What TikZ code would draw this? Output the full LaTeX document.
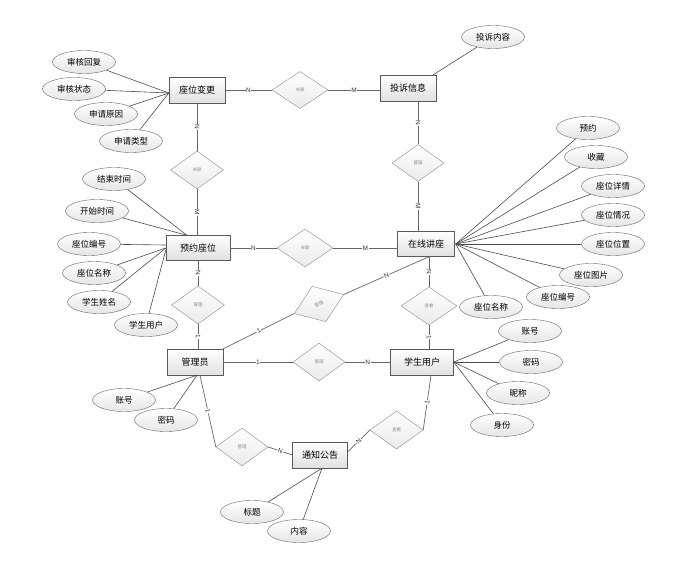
\documentclass[tikz,border=0pt]{standalone}
\usepackage{fontspec}
\newfontfamily\cjk{Noto Sans CJK SC}
\newfontfamily\lat{Liberation Sans}
\usetikzlibrary{shapes.geometric,shadows}
\begin{document}
\begin{tikzpicture}[x=1pt,y=-1pt,
  ent/.style={draw=black!65, top color=white, bottom color=black!12, minimum width=56pt, minimum height=26pt, inner sep=1pt, font=\cjk\fontsize{9}{10}\selectfont, drop shadow={shadow xshift=0.8pt, shadow yshift=-0.8pt, opacity=0.35}},
  attr/.style={ellipse, draw=black!60, top color=white, bottom color=black!10, minimum width=63pt, minimum height=23pt, inner sep=0pt, font=\cjk\fontsize{8.5}{10}\selectfont},
  rel/.style={diamond, draw=black!45, top color=white, bottom color=black!8, minimum width=53pt, minimum height=38pt, inner sep=0pt, font=\cjk\fontsize{4.5}{5}\selectfont, text=black!45},
  ln/.style={draw=black!60, line width=0.7pt},
  al/.style={draw=black!70, line width=0.6pt},
  card/.style={font=\lat\fontsize{6.5}{7}\selectfont, fill=white, inner sep=0.6pt, sloped, text=black!80}]
\fill[white] (0,0) rectangle (698,569);
\useasboundingbox (0,0) rectangle (698,569);

% entities
\node[ent] (zwbg) at (197,90) {座位变更};
\node[ent] (tsxx) at (408,88) {投诉信息};
\node[ent, minimum width=64pt, minimum height=25pt] (yyzw) at (198,248) {预约座位};
\node[ent, minimum width=57pt, minimum height=25pt] (zxjz) at (426,244) {在线讲座};
\node[ent] (gly) at (195,362) {管理员};
\node[ent, minimum width=63pt] (xsyh) at (422,362) {学生用户};
\node[ent, minimum width=55pt] (tzgg) at (320,455) {通知公告};

% relations
\node[rel, minimum width=56pt, minimum height=37pt] (r1) at (300,90) {关联};
\node[rel] (r2) at (197,170) {关联};
\node[rel, minimum width=52pt, minimum height=37pt] (r3) at (418,163) {管理};
\node[rel, minimum width=56pt] (r4) at (305,248) {关联};
\node[rel] (r5) at (198,305) {管理};
\node[rel, minimum width=56pt] (r6) at (429,306) {查看};
\node[rel, rotate=21] (r7) at (319,304) {管理};
\node[rel, minimum width=52pt] (r8) at (319,362) {管理};
\node[rel, minimum width=52pt] (r9) at (242,447) {管理};
\node[rel] (r10) at (396.5,430) {查看};

% relation connectors
\draw[ln] (zwbg.east) -- node[card]{N} (r1.west);
\draw[ln] (r1.east) -- node[card]{M} (r1.east -| tsxx.west);
\draw[ln] (zwbg.south) -- node[card]{N} (r2.north);
\draw[ln] (r2.south) -- node[card]{M} (r2.south |- yyzw.north);
\draw[ln] ([xshift=10pt]tsxx.south) -- node[card]{N} (r3.north);
\draw[ln] (r3.south) -- node[card]{M} (r3.south |- zxjz.north);
\draw[ln] (yyzw.east) -- node[card]{N} (r4.west);
\draw[ln] (r4.east) -- node[card]{M} (r4.east -| zxjz.west);
\draw[ln] (yyzw.south) -- node[card]{N} (r5.north);
\draw[ln] (r5.south) -- node[card]{1} (r5.south |- gly.north);
\draw[ln] (r6.north |- zxjz.south) -- node[card]{N} (r6.north);
\draw[ln] (r6.south) -- node[card]{1} (r6.south |- xsyh.north);
\draw[ln] (gly.north east) -- node[card]{1} (r7.west);
\draw[ln] (r7.east) -- node[card]{N} ([xshift=3pt]zxjz.south);
\draw[ln] (gly.east) -- node[card]{1} (r8.west);
\draw[ln] (r8.east) -- node[card]{N} (xsyh.west);
\draw[ln] ([xshift=5pt]gly.south) -- node[card]{1} (r9.west);
\draw[ln] (r9.east) -- node[card]{N} (tzgg.west);
\draw[ln] ([xshift=9pt]xsyh.south) -- node[card]{1} (r10.east);
\draw[ln] (r10.west) -- node[card]{N} ([yshift=3pt]tzgg.east);

% attributes of 座位变更
\node[attr] (a1) at (84,62) {审核回复};
\node[attr] (a2) at (74,89) {审核状态};
\node[attr] (a3) at (106,114) {申请原因};
\node[attr] (a4) at (131,141) {申请类型};
\foreach \a in {a1,a2,a3,a4} \draw[al] (\a) -- ([yshift=-3pt]zwbg.west);

% attribute of 投诉信息
\node[attr] (b1) at (493,37) {投诉内容};
\draw[al] (b1) -- ([xshift=-3pt]tsxx.north east);

% attributes of 预约座位
\node[attr] (c1) at (114,179) {结束时间};
\node[attr] (c2) at (97,211) {开始时间};
\node[attr] (c3) at (89,244) {座位编号};
\node[attr] (c4) at (94,273) {座位名称};
\node[attr] (c5) at (99,302) {学生姓名};
\node[attr] (c6) at (146,325) {学生用户};
\draw[al] (c1) -- ([xshift=-11pt]yyzw.north);
\draw[al] (c2) -- ([xshift=-11pt]yyzw.north);
\draw[al] (c3) -- ([yshift=3pt]yyzw.west);
\draw[al] (c4) -- (yyzw.west);
\draw[al] (c5) -- (yyzw.west);
\draw[al] (c6) -- ([yshift=-2pt]yyzw.west);

% attributes of 在线讲座
\node[attr] (d1) at (588,128) {预约};
\node[attr] (d2) at (596,157) {收藏};
\node[attr] (d3) at (613,186) {座位详情};
\node[attr] (d4) at (613,215) {座位情况};
\node[attr] (d5) at (613,244) {座位位置};
\node[attr] (d6) at (591,275) {座位图片};
\node[attr] (d7) at (558,297) {座位编号};
\node[attr] (d8) at (491,307) {座位名称};
\foreach \a in {d1,d2,d3,d4,d5,d6,d7,d8} \draw[al] (\a) -- ([xshift=1pt]zxjz.east);

% attributes of 学生用户
\node[attr] (e1) at (530,331) {账号};
\node[attr] (e2) at (531,362) {密码};
\node[attr] (e3) at (518,393) {昵称};
\node[attr] (e4) at (502,425) {身份};
\foreach \a in {e1,e2,e3,e4} \draw[al] (\a) -- (xsyh.east);

% attributes of 管理员
\draw[al] (124,400) -- ([xshift=2pt]gly.south);
\node[attr] (f1) at (124,400) {账号};
\node[attr] (f2) at (166,420) {密码};
\draw[al] (f2) -- ([xshift=2pt]gly.south);

% attributes of 通知公告
\node[attr] (g1) at (252,512) {标题};
\node[attr] (g2) at (299,531) {内容};
\draw[al] (g1) -- ([xshift=2pt]tzgg.south);
\draw[al] (g2) -- ([xshift=2pt]tzgg.south);
\end{tikzpicture}
\end{document}
